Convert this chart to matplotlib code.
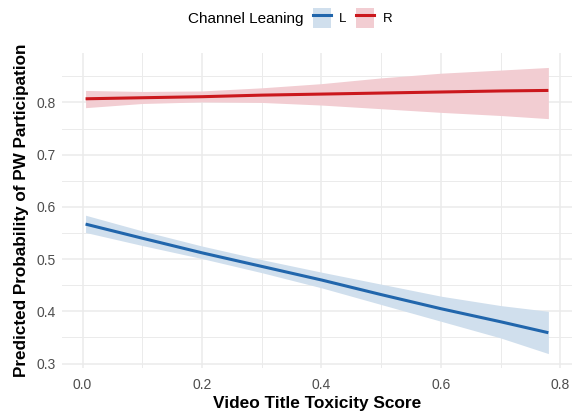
import matplotlib
matplotlib.use("Agg")
import matplotlib.pyplot as plt
from matplotlib.patches import Patch
from matplotlib.lines import Line2D
from matplotlib.ticker import MultipleLocator, FormatStrFormatter

plt.rcParams['font.family'] = ['Liberation Sans', 'DejaVu Sans']

# Predicted probabilities by toxicity score, with 95% CI
toxicity = [0.005, 0.1, 0.2, 0.3, 0.4, 0.5, 0.6, 0.7, 0.78]

left_fit = [0.567, 0.540, 0.512, 0.486, 0.460, 0.432, 0.405, 0.380, 0.359]
left_lo = [0.551, 0.526, 0.501, 0.474, 0.445, 0.413, 0.381, 0.349, 0.319]
left_hi = [0.584, 0.554, 0.525, 0.499, 0.475, 0.452, 0.429, 0.411, 0.400]

right_fit = [0.807, 0.809, 0.811, 0.814, 0.816, 0.818, 0.820, 0.822, 0.823]
right_lo = [0.790, 0.798, 0.801, 0.800, 0.795, 0.788, 0.781, 0.775, 0.769]
right_hi = [0.823, 0.821, 0.822, 0.828, 0.836, 0.847, 0.856, 0.862, 0.867]

leaning = ['L', 'R']
line_colors = {'L': '#2166AC', 'R': '#CB181D'}
fill_colors = {'L': '#D0DFED', 'R': '#F2CDD2'}

fig = plt.figure(figsize=(5.75, 4.12), dpi=100)
ax = fig.add_axes([0.1085, 0.107, 0.8855, 0.764])

series = {'L': (left_fit, left_lo, left_hi), 'R': (right_fit, right_lo, right_hi)}
for key in leaning:
    fit, lo, hi = series[key]
    ax.fill_between(toxicity, lo, hi, color=fill_colors[key], lw=0, zorder=2)
    ax.plot(toxicity, fit, color=line_colors[key], lw=2.2, zorder=3,
            solid_capstyle='butt')

ax.set_xlim(-0.0338, 0.8188)
ax.set_ylim(0.2916, 0.8944)
ax.xaxis.set_major_locator(MultipleLocator(0.2))
ax.xaxis.set_minor_locator(MultipleLocator(0.1))
ax.yaxis.set_major_locator(MultipleLocator(0.1))
ax.yaxis.set_minor_locator(MultipleLocator(0.05))
ax.xaxis.set_major_formatter(FormatStrFormatter('%.1f'))
ax.yaxis.set_major_formatter(FormatStrFormatter('%.1f'))

ax.grid(which='major', color='#EBEBEB', lw=1.1, zorder=0)
ax.grid(which='minor', color='#EBEBEB', lw=0.7, zorder=0)
ax.set_axisbelow(True)
for s in ax.spines.values():
    s.set_visible(False)
ax.tick_params(which='both', length=0)
ax.tick_params(axis='both', labelsize=10, labelcolor='#4D4D4D')
ax.tick_params(axis='x', pad=7)
ax.tick_params(axis='y', pad=5)

ax.set_xlabel('Video Title Toxicity Score', fontsize=12.4, fontweight='bold',
              labelpad=3)
ax.set_ylabel('Predicted Probability of PW Participation', fontsize=12.3,
              fontweight='bold', labelpad=5)

# Legend at top
fig.text(0.327, 0.954, 'Channel Leaning', fontsize=11, ha='left',
         va='center', color='black')
handles = [(Patch(facecolor=fill_colors[k], edgecolor='none'),
            Line2D([], [], color=line_colors[k], lw=2.2)) for k in leaning]
fig.legend(handles, leaning, loc='center left', bbox_to_anchor=(0.544, 0.956),
           ncol=2, frameon=False, fontsize=9.5, handlelength=1.36,
           handleheight=2.0, handletextpad=0.65, columnspacing=0.7,
           borderaxespad=0, borderpad=0)

fig.savefig('out.png', dpi=100)
